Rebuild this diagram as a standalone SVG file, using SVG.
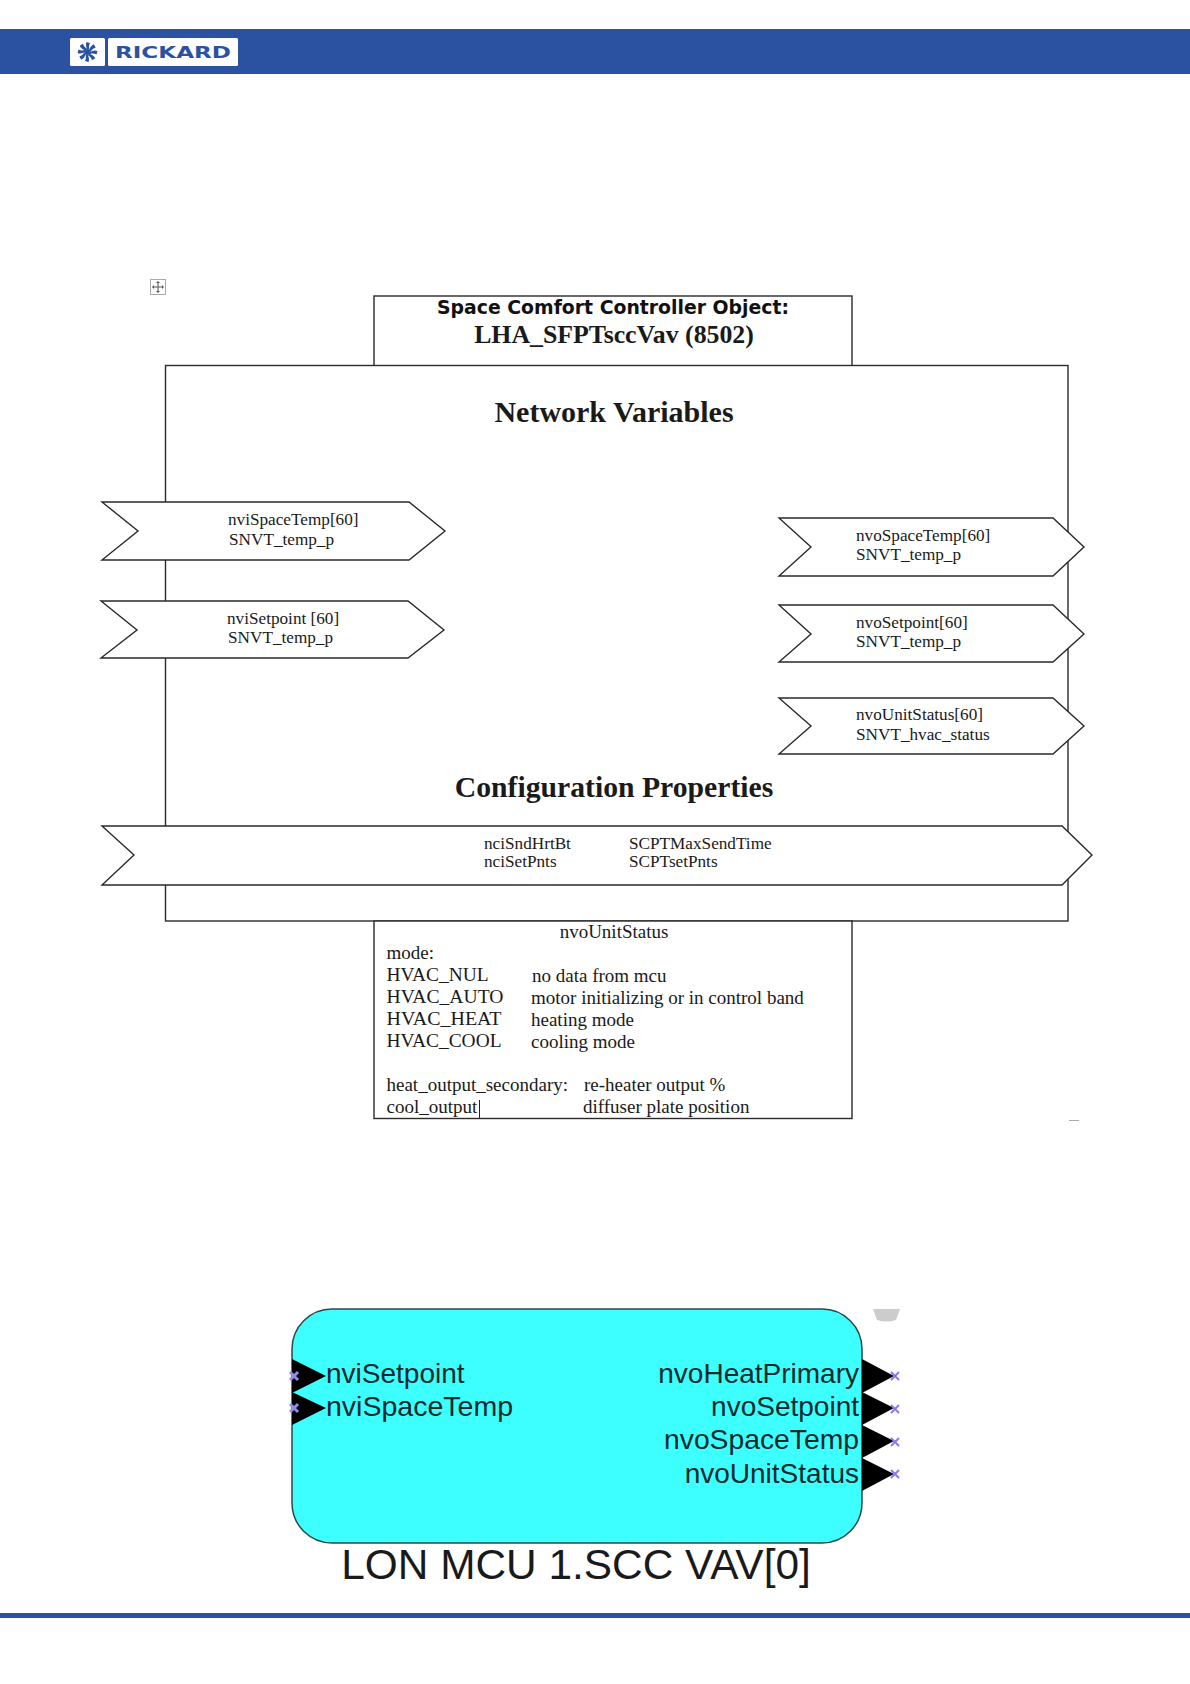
<svg xmlns="http://www.w3.org/2000/svg" width="1190" height="1684" viewBox="0 0 1190 1684">
<style>
.s{font-family:"Liberation Serif","Times New Roman",serif;fill:#1a1a1a}
.a{font-family:"Liberation Sans",Arial,sans-serif;fill:#0c2a2c}
.b{fill:#fff;stroke:#2a2a2a;stroke-width:1.4}
.t{font-size:17.2px}
.u{font-size:19px}
.pin{fill:#000}
.x{stroke:#8a78ee;stroke-width:2;fill:none}
.xl{stroke:#9a88ee;stroke-width:3;fill:none}
</style>
<defs><path id="blade" d="M0 -2.500C-1.500 -5 -2 -7.500 -1 -10L2.500 -9C1.500 -7 1.200 -5 2 -2.500Z"/></defs>
<rect width="1190" height="1684" fill="#fff"/>
<g id="header">
<rect x="0" y="29" width="1190" height="45" fill="#2a52a0"/>
<rect x="70" y="38" width="35" height="28" rx="1.5" fill="#fff"/>
<rect x="108" y="38" width="130" height="28" rx="1.5" fill="#fff"/>
<g fill="#2a52a0" transform="translate(87.500 52)">
<circle r="3"/>
<use href="#blade"/>
<use href="#blade" transform="rotate(45)"/>
<use href="#blade" transform="rotate(90)"/>
<use href="#blade" transform="rotate(135)"/>
<use href="#blade" transform="rotate(180)"/>
<use href="#blade" transform="rotate(225)"/>
<use href="#blade" transform="rotate(270)"/>
<use href="#blade" transform="rotate(315)"/>
</g>
<text x="115" y="58" font-family="'DejaVu Sans',sans-serif" font-weight="bold" font-size="15.500" fill="#2a52a0" textLength="116" lengthAdjust="spacingAndGlyphs">RICKARD</text>
</g>
<g id="move-handle">
<rect x="150.500" y="279.500" width="15" height="15" fill="#fff" stroke="#aaa"/>
<path d="M158 282V292M153 287H163" stroke="#555" stroke-width="1"/>
<path d="M158 281l-2 2h4zM158 293l-2-2h4zM152 287l2-2v4zM164 287l-2-2v4z" fill="#555"/>
</g>
<g id="title-box">
<rect class="b" x="374" y="296" width="478" height="70"/>
<text x="613" y="314" text-anchor="middle" font-family="'DejaVu Sans',sans-serif" font-weight="bold" font-size="19" fill="#111" textLength="352" lengthAdjust="spacingAndGlyphs">Space Comfort Controller Object:</text>
<text class="s" x="614" y="343" text-anchor="middle" font-weight="bold" font-size="25.800">LHA_SFPTsccVav (8502)</text>
</g>
<g id="object-box">
<rect class="b" x="165.500" y="365.500" width="902.500" height="555.500"/>
<text class="s" x="614" y="422" text-anchor="middle" font-weight="bold" font-size="30">Network Variables</text>
<text class="s" x="614" y="797" text-anchor="middle" font-weight="bold" font-size="29.700">Configuration Properties</text>
</g>
<g id="nviSpaceTemp">
<polygon class="b" points="102,502 409,502 445,531 409,560 102,560 138,531"/>
<text class="s t" x="228" y="525">nviSpaceTemp[60]</text>
<text class="s t" x="229" y="545">SNVT_temp_p</text>
</g>
<g id="nviSetpoint">
<polygon class="b" points="101,601 408,601 444,630 408,658 101,658 137,630"/>
<text class="s t" x="227" y="624">nviSetpoint [60]</text>
<text class="s t" x="228" y="643">SNVT_temp_p</text>
</g>
<g id="nvoSpaceTemp">
<polygon class="b" points="779,518 1053,518 1084,547 1053,576 779,576 811,547"/>
<text class="s t" x="856" y="541">nvoSpaceTemp[60]</text>
<text class="s t" x="856" y="560">SNVT_temp_p</text>
</g>
<g id="nvoSetpoint">
<polygon class="b" points="779,605 1053,605 1084,634 1053,662 779,662 811,634"/>
<text class="s t" x="856" y="628">nvoSetpoint[60]</text>
<text class="s t" x="856" y="647">SNVT_temp_p</text>
</g>
<g id="nvoUnitStatus">
<polygon class="b" points="779,698 1053,698 1084,726 1053,754 779,754 811,726"/>
<text class="s t" x="856" y="720">nvoUnitStatus[60]</text>
<text class="s t" x="856" y="740">SNVT_hvac_status</text>
</g>
<g id="config">
<polygon class="b" points="102,826 1062,826 1092,855 1062,885 102,885 134,855"/>
<text class="s t" x="484" y="849">nciSndHrtBt</text>
<text class="s t" x="484" y="867">nciSetPnts</text>
<text class="s t" x="629" y="849">SCPTMaxSendTime</text>
<text class="s t" x="629" y="867">SCPTsetPnts</text>
</g>
<g id="status-box">
<rect class="b" x="374" y="921" width="478" height="197.500"/>
<text class="s u" x="614" y="938" text-anchor="middle">nvoUnitStatus</text>
<text class="s u" x="386.500" y="959">mode:</text>
<text class="s u" x="386.500" y="981" textLength="102" lengthAdjust="spacingAndGlyphs">HVAC_NUL</text><text class="s u" x="532" y="982">no data from mcu</text>
<text class="s u" x="386.500" y="1003" textLength="117" lengthAdjust="spacingAndGlyphs">HVAC_AUTO</text><text class="s u" x="531" y="1004">motor initializing or in control band</text>
<text class="s u" x="386.500" y="1025" textLength="115" lengthAdjust="spacingAndGlyphs">HVAC_HEAT</text><text class="s u" x="531" y="1026">heating mode</text>
<text class="s u" x="386.500" y="1047" textLength="115" lengthAdjust="spacingAndGlyphs">HVAC_COOL</text><text class="s u" x="531" y="1048">cooling mode</text>
<text class="s u" x="386.500" y="1091">heat_output_secondary:</text><text class="s u" x="584" y="1091">re-heater output %</text>
<text class="s u" x="386.500" y="1113">cool_output</text><text class="s u" x="583" y="1113">diffuser plate position</text>
<path d="M479.500 1100V1118" stroke="#222" stroke-width="1"/>
</g>
<path d="M1069 1120.500H1079" stroke="#aaa" stroke-width="1"/>
<g id="lon-block">
<path d="M873 1309H900L896 1320Q886 1323 877 1320Z" fill="#ccc"/>
<rect x="292" y="1309" width="570" height="234" rx="40" fill="#3effff" stroke="#2a4a4a" stroke-width="1.500"/>
<g id="pins-in">
<path class="pin" d="M292 1359L326 1376L292 1393Z"/>
<path class="pin" d="M292 1392L326 1408L292 1425Z"/>
</g>
<g id="pins-out">
<path class="pin" d="M862 1359L894 1376L862 1393Z"/>
<path class="pin" d="M862 1392L894 1408L862 1425Z"/>
<path class="pin" d="M862 1425L894 1441L862 1458Z"/>
<path class="pin" d="M862 1458L894 1474L862 1491Z"/>
</g>
<path class="xl" d="M290 1372l8 8m0-8l-8 8M290 1404l8 8m0-8l-8 8"/>
<path class="x" d="M891 1372l8 8m0-8l-8 8M891 1405l8 8m0-8l-8 8M891 1438l8 8m0-8l-8 8M891 1470l8 8m0-8l-8 8"/>
<text class="a" x="326" y="1383" font-size="28">nviSetpoint</text>
<text class="a" x="326" y="1416" font-size="28" textLength="187" lengthAdjust="spacingAndGlyphs">nviSpaceTemp</text>
<text class="a" x="859" y="1383" font-size="28" text-anchor="end">nvoHeatPrimary</text>
<text class="a" x="859" y="1416" font-size="28" text-anchor="end">nvoSetpoint</text>
<text class="a" x="859" y="1449" font-size="28" text-anchor="end" textLength="195" lengthAdjust="spacingAndGlyphs">nvoSpaceTemp</text>
<text class="a" x="859" y="1483" font-size="28" text-anchor="end">nvoUnitStatus</text>
<text class="a" x="576" y="1579" font-size="42.400" text-anchor="middle" style="fill:#1a1a1a">LON MCU 1.SCC VAV[0]</text>
</g>
<rect id="footer-line" x="0" y="1613" width="1190" height="5" fill="#2a52a0"/>
</svg>
